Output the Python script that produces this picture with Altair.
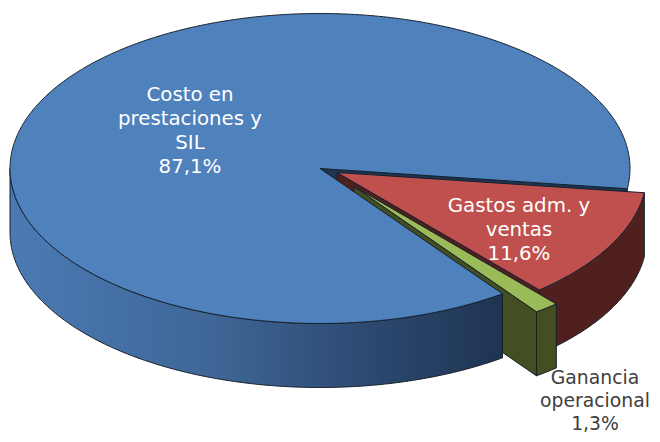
import math
import altair as alt
import pandas as pd

# Chart values (percent shares) and labels
categories = ["Costo en prestaciones y SIL", "Gastos adm. y ventas", "Ganancia operacional"]
shares = [87.1, 11.6, 1.3]
share_labels = ["87,1%", "11,6%", "1,3%"]
label_lines = [["Costo en", "prestaciones y", "SIL", "87,1%"],
               ["Gastos adm. y", "ventas", "11,6%"],
               ["Ganancia", "operacional", "1,3%"]]
label_x = [190, 519, 595]
label_y = [95, 206, 378]
label_step = [24, 24, 23]
label_size = [19.8, 19.8, 18.8]
label_colors = ["#ffffff", "#ffffff", "#404040"]

# Pie geometry in reference-picture units
CX, CY, RX, RY, DEPTH = 320, 168.5, 310, 155, 64
ROTATION = 7.5  # clockwise screen angle where the first slice ends
offsets = [(0, 0), (17, 4), (34, 18)]
TOP = ["#4f81bd", "#c0504d", "#9bbb59"]
WALL = ["#1f3452", "#4f201e", "#434f20"]
EDGE = "#16202c"

ends = {}
ends[0] = (ROTATION + 360 - shares[0] * 3.6, ROTATION + 360)
ends[1] = (ROTATION, ROTATION + shares[1] * 3.6)
ends[2] = (ends[1][1], ends[1][1] + shares[2] * 3.6)


def pt(i, deg, drop=0):
    ox, oy = offsets[i]
    a = math.radians(deg)
    return (CX + ox + RX * math.cos(a), CY + oy + RY * math.sin(a) + drop)


def apex(i, drop=0):
    return (CX + offsets[i][0], CY + offsets[i][1] + drop)


def arc(i, a1, a2, drop=0):
    n = max(2, int(abs(a2 - a1)) * 2)
    return [pt(i, a1 + (a2 - a1) * k / n, drop) for k in range(n + 1)]


def frame(points):
    points = list(points) + [points[0]]
    return pd.DataFrame({"x": [p[0] for p in points], "y": [p[1] for p in points],
                         "o": list(range(len(points)))})


x_scale = alt.Scale(domain=[8, 652], nice=False, zero=False)
y_scale = alt.Scale(domain=[434, 8], nice=False, zero=False)


def poly(points, fill, stroke=EDGE, width=1.0):
    return alt.Chart(frame(points)).mark_line(
        fill=fill, stroke=stroke, strokeWidth=width, strokeJoin="round", clip=False
    ).encode(
        x=alt.X("x:Q", scale=x_scale, axis=None),
        y=alt.Y("y:Q", scale=y_scale, axis=None),
        order="o:Q",
    )


blue_a1, blue_a2 = ends[0]
red_a1, red_a2 = ends[1]
green_a1, green_a2 = ends[2]

blue_grad = alt.Gradient(gradient="linear", x1=0, x2=1, y1=0, y2=0, stops=[
    alt.GradientStop(color="#4b7ab3", offset=0),
    alt.GradientStop(color="#3f6798", offset=0.4),
    alt.GradientStop(color="#2b476e", offset=0.75),
    alt.GradientStop(color="#1f3452", offset=1),
])

layers = [
    # far cut face of the big slice
    poly([apex(0), pt(0, ROTATION), pt(0, ROTATION, DEPTH), apex(0, DEPTH)], WALL[0]),
    # red walls
    poly(arc(1, red_a1, red_a2) + arc(1, red_a2, red_a1, DEPTH), WALL[1]),
    poly([apex(1), pt(1, red_a2), pt(1, red_a2, DEPTH), apex(1, DEPTH)], WALL[1]),
    # green walls
    poly([apex(2), pt(2, green_a2), pt(2, green_a2, DEPTH), apex(2, DEPTH)], WALL[2]),
    poly(arc(2, green_a1, green_a2) + arc(2, green_a2, green_a1, DEPTH), WALL[2]),
    # big slice wall and top
    poly(arc(0, blue_a1, 180) + arc(0, 180, blue_a1, DEPTH), blue_grad),
    poly([apex(0)] + arc(0, blue_a1, blue_a2), TOP[0]),
    # exploded tops
    poly([apex(1)] + arc(1, red_a1, red_a2), TOP[1]),
    poly([apex(2)] + arc(2, green_a1, green_a2), TOP[2]),
]

rows = []
for lines, lx, ly, step, fs, col in zip(label_lines, label_x, label_y, label_step, label_size, label_colors):
    for j, line in enumerate(lines):
        rows.append({"x": lx, "y": ly + j * step, "t": line, "c": col, "s": fs})
text = alt.Chart(pd.DataFrame(rows)).mark_text(
    font="DejaVu Sans", align="center", baseline="middle"
).encode(
    x=alt.X("x:Q", scale=x_scale, axis=None),
    y=alt.Y("y:Q", scale=y_scale, axis=None),
    text="t:N",
    size=alt.Size("s:Q", scale=None),
    color=alt.Color("c:N", scale=None),
)

chart = alt.layer(*layers, text).properties(
    width=644, height=426, padding=0, background="#ffffff",
    autosize=alt.AutoSizeParams(type="none"),
).configure_view(stroke=None).resolve_scale(x="shared", y="shared")

chart.save("out.html", embed_options={"renderer": "svg", "actions": False})
